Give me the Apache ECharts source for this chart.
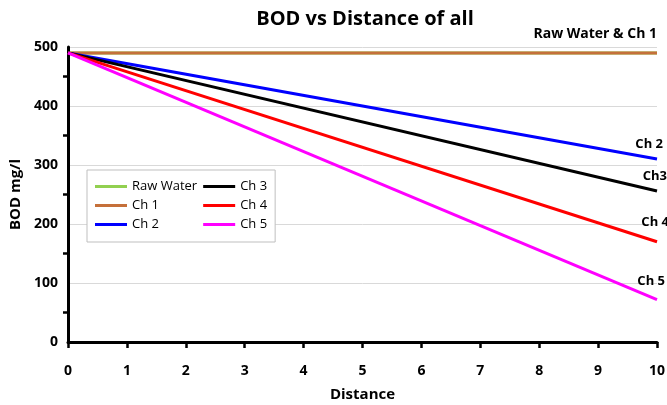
<!DOCTYPE html>
<html>
<head>
<meta charset="utf-8">
<script src="https://cdn.jsdelivr.net/npm/echarts@6/dist/echarts.min.js"></script>
<style>
  html, body { margin: 0; padding: 0; background: #fff; }
  #chart { width: 667px; height: 405px; }
</style>
</head>
<body>
<div id="chart"></div>
<script>
// distance (x) and BOD values (mg/l)
const distance = [0, 10]
const rawWater = [490, 490]
const ch1 = [490, 490]
const ch2 = [490, 310]
const ch3 = [490, 256]
const ch4 = [490, 170]
const ch5 = [490, 72]

const names = ['Raw Water', 'Ch 1', 'Ch 2', 'Ch 3', 'Ch 4', 'Ch 5']
const endTexts = ['', 'Raw Water & Ch 1', 'Ch 2', 'Ch3', 'Ch 4', 'Ch 5']
const values = [rawWater, ch1, ch2, ch3, ch4, ch5]
const colors = ['#92D050', '#C5703A', '#0000FF', '#000000', '#FF0000', '#FF00FF']
// end label tweaks: [shift right, lift up]
const labelShift = [[0, 0], [0, 12], [6, 8], [10, 8], [12, 13], [8, 12]]

const font = '"Open Sans", "DejaVu Sans", sans-serif'

const series = names.map((name, k) => ({
    name: name,
    type: 'line',
    data: distance.map((d, i) => [d, values[k][i]]),
    symbol: 'none',
    showSymbol: false,
    lineStyle: { color: colors[k], width: 3 },
    itemStyle: { color: colors[k] },
    endLabel: {
        show: endTexts[k] !== '',
        formatter: endTexts[k],
        align: 'right',
        verticalAlign: 'bottom',
        distance: labelShift[k][0],
        padding: [0, 0, labelShift[k][1], 0],
        color: '#000',
        fontFamily: font,
        fontWeight: 'bold',
        fontSize: k === 1 ? 14 : 13
    }
}))

const chart = echarts.init(document.getElementById('chart'))
chart.setOption({
    animation: false,
    backgroundColor: '#fff',
    title: {
        text: 'BOD vs Distance of all',
        left: 360,
        textAlign: 'center',
        top: 4,
        textStyle: { fontFamily: font, fontWeight: 'bold', fontSize: 20, color: '#000' }
    },
    legend: {
        orient: 'vertical',
        left: 87,
        top: 170,
        height: 62,
        icon: 'rect',
        itemWidth: 32,
        itemHeight: 3,
        itemGap: 6,
        padding: [10, 8, 11, 8],
        borderColor: '#bfbfbf',
        borderWidth: 1,
        backgroundColor: '#fff',
        textStyle: { fontFamily: font, fontSize: 13, color: '#000' },
        data: names
    },
    grid: { left: 68, right: 10, top: 47, bottom: 63, outerBoundsMode: 'none', containLabel: false },
    xAxis: {
        type: 'value',
        min: 0,
        max: 10,
        interval: 1,
        name: 'Distance',
        nameLocation: 'middle',
        nameGap: 45,
        nameTextStyle: { fontFamily: font, fontWeight: 'bold', fontSize: 15, color: '#000' },
        axisLine: { show: true, lineStyle: { color: '#000', width: 3 } },
        axisTick: { show: true, length: 6, lineStyle: { color: '#000', width: 2.5 } },
        axisLabel: { fontFamily: font, fontWeight: 'bold', fontSize: 14, color: '#000', margin: 22 },
        splitLine: { show: false }
    },
    yAxis: {
        type: 'value',
        min: 0,
        max: 500,
        interval: 100,
        name: 'BOD mg/l',
        nameLocation: 'middle',
        nameGap: 42,
        nameTextStyle: { fontFamily: font, fontWeight: 'bold', fontSize: 15, color: '#000' },
        axisLine: { show: true, lineStyle: { color: '#000', width: 3 } },
        axisTick: { show: false },
        minorTick: { show: true, splitNumber: 2, length: 5, lineStyle: { color: '#000', width: 2.5 } },
        axisLabel: { fontFamily: font, fontWeight: 'bold', fontSize: 14, color: '#000', margin: 10 },
        splitLine: { show: true, lineStyle: { color: '#d9d9d9', width: 1 } }
    },
    series: series
})
</script>
</body>
</html>
